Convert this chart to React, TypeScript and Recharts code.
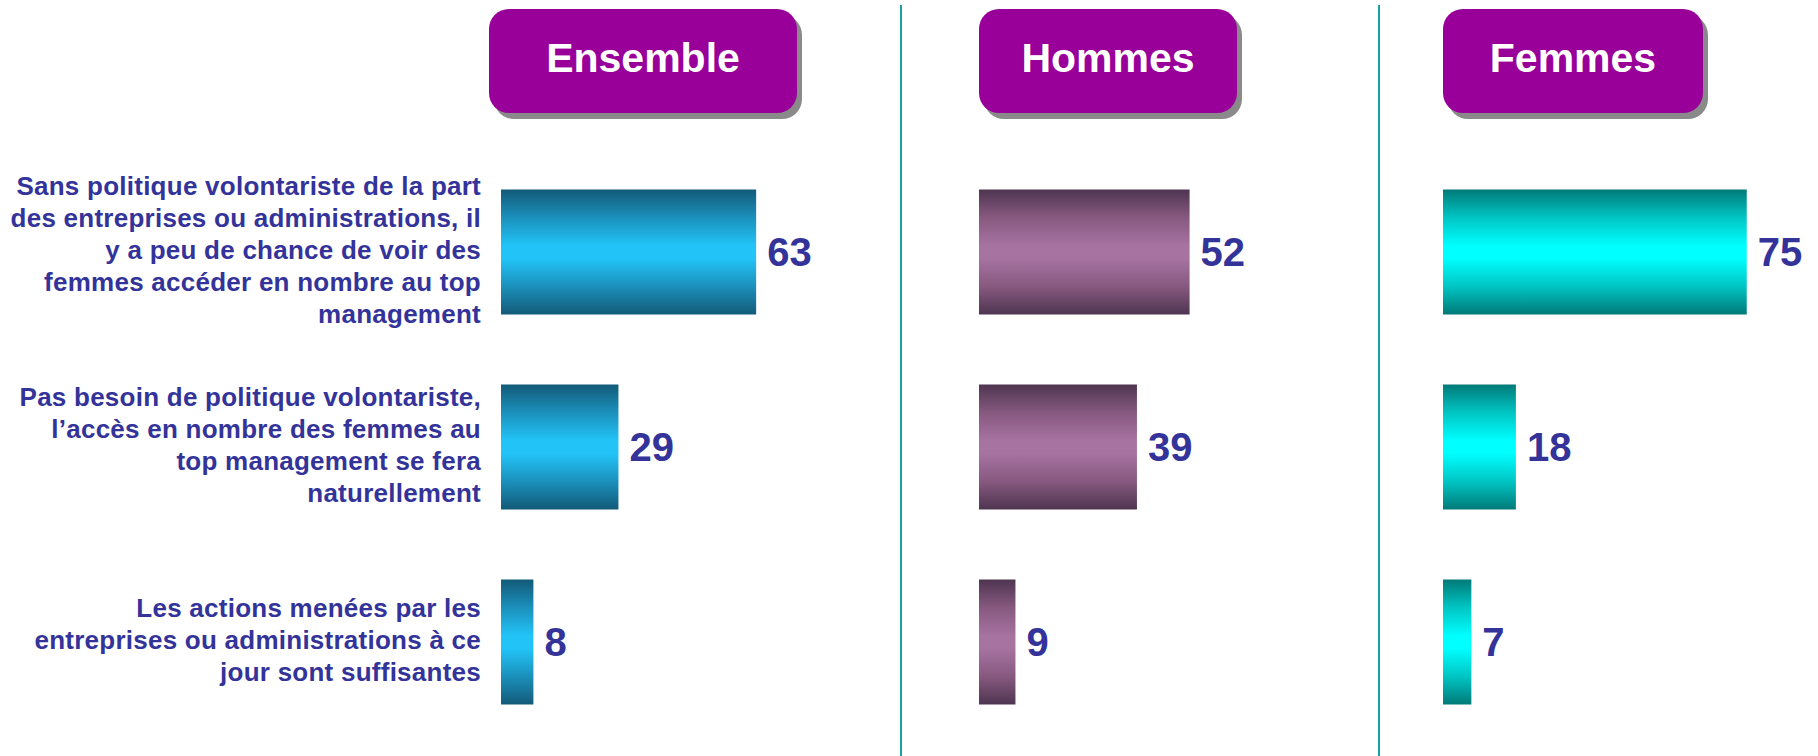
import React from 'react';
import { BarChart, Bar, XAxis, YAxis, LabelList } from 'recharts';

const categories = ['sansPolitique', 'pasBesoin', 'actions'];

const categoryLines = [
  [
    'Sans politique volontariste de la part',
    'des entreprises ou administrations, il',
    'y a peu de chance de voir des',
    'femmes accéder en nombre au top',
    'management',
  ],
  [
    'Pas besoin de politique volontariste,',
    'l’accès en nombre des femmes au',
    'top management se fera',
    'naturellement',
  ],
  [
    'Les actions menées par les',
    'entreprises ou administrations à ce',
    'jour sont suffisantes',
  ],
];

const ensembleValues = [63, 29, 8];
const hommesValues = [52, 39, 9];
const femmesValues = [75, 18, 7];

const panelTitles = ['Ensemble', 'Hommes', 'Femmes'];

const FONT = "'Liberation Sans', Arial, Helvetica, sans-serif";
const TEXT_BLUE = '#333399';

const toData = (values: number[]) =>
  categories.map((category, i) => ({ category, value: values[i] }));

function CategoryTick(props: any) {
  const { x, y, payload } = props;
  const lines = categoryLines[categories.indexOf(payload.value)] || [];
  const lineHeight = 32;
  const startY = y - 2 - ((lines.length - 1) * lineHeight) / 2;
  return (
    <text
      textAnchor="end"
      fill={TEXT_BLUE}
      fontSize={26}
      letterSpacing={0.25}
      fontWeight="bold"
      fontFamily={FONT}
    >
      {lines.map((line, i) => (
        <tspan key={i} x={x - 20} y={startY + i * lineHeight} dy="0.35em">
          {line}
        </tspan>
      ))}
    </text>
  );
}

interface PanelProps {
  id: string;
  values: number[];
  left: number;
  width: number;
  marginLeft: number;
  marginRight: number;
  showCategories?: boolean;
  edge: string;
  mid: string;
  center: string;
}

function Panel({
  id,
  values,
  left,
  width,
  marginLeft,
  marginRight,
  showCategories,
  edge,
  mid,
  center,
}: PanelProps) {
  return (
    <div style={{ position: 'absolute', left, top: 0 }}>
      <BarChart
        width={width}
        height={756}
        layout="vertical"
        data={toData(values)}
        margin={{ top: 154.5, bottom: 16.5, left: marginLeft, right: marginRight }}
        barSize={125}
      >
        <defs>
          <linearGradient id={id} x1="0" y1="0" x2="0" y2="1">
            <stop offset="0%" stopColor={edge} />
            <stop offset="22%" stopColor={mid} />
            <stop offset="45%" stopColor={center} />
            <stop offset="55%" stopColor={center} />
            <stop offset="78%" stopColor={mid} />
            <stop offset="100%" stopColor={edge} />
          </linearGradient>
        </defs>
        <XAxis type="number" domain={[0, 80]} hide />
        {showCategories ? (
          <YAxis
            type="category"
            dataKey="category"
            width={501}
            axisLine={false}
            tickLine={false}
            tickSize={0}
            tickMargin={0}
            interval={0}
            tick={<CategoryTick />}
          />
        ) : (
          <YAxis type="category" dataKey="category" hide />
        )}
        <Bar dataKey="value" fill={`url(#${id})`} isAnimationActive={false}>
          <LabelList
            dataKey="value"
            position="right"
            offset={11}
            fill={TEXT_BLUE}
            fontSize={40}
            fontWeight="bold"
            fontFamily={FONT}
          />
        </Bar>
      </BarChart>
    </div>
  );
}

const titleBoxes = [
  { left: 489, width: 308 },
  { left: 979, width: 258 },
  { left: 1443, width: 260 },
];

export default function App() {
  return (
    <div
      style={{
        position: 'absolute',
        left: 0,
        top: 0,
        width: 1818,
        height: 756,
        overflow: 'hidden',
        background: '#ffffff',
        fontFamily: FONT,
      }}
    >
      {[901, 1379].map((x) => (
        <div
          key={x}
          style={{
            position: 'absolute',
            left: x - 1,
            top: 5,
            width: 2,
            height: 751,
            background: '#17a2a2',
          }}
        />
      ))}
      {panelTitles.map((title, i) => (
        <div
          key={title}
          style={{
            position: 'absolute',
            left: titleBoxes[i].left,
            top: 9,
            width: titleBoxes[i].width,
            height: 104,
            background: '#990099',
            borderRadius: 20,
            boxShadow: '5px 6px 0 #8a8a8a',
            color: '#ffffff',
            fontWeight: 'bold',
            fontSize: 41,
            display: 'flex',
            alignItems: 'center',
            justifyContent: 'center',
            paddingBottom: 6,
            boxSizing: 'border-box',
          }}
        >
          {title}
        </div>
      ))}
      <Panel
        id="gradEnsemble"
        values={ensembleValues}
        left={0}
        width={900}
        marginLeft={0}
        marginRight={75}
        showCategories
        edge="#135a78"
        mid="#1b8fba"
        center="#22c4f8"
      />
      <Panel
        id="gradHommes"
        values={hommesValues}
        left={901}
        width={479}
        marginLeft={78}
        marginRight={77}
        edge="#4e3550"
        mid="#86587f"
        center="#a773a1"
      />
      <Panel
        id="gradFemmes"
        values={femmesValues}
        left={1380}
        width={438}
        marginLeft={63}
        marginRight={51}
        edge="#007a78"
        mid="#00c4c2"
        center="#00ffff"
      />
    </div>
  );
}
